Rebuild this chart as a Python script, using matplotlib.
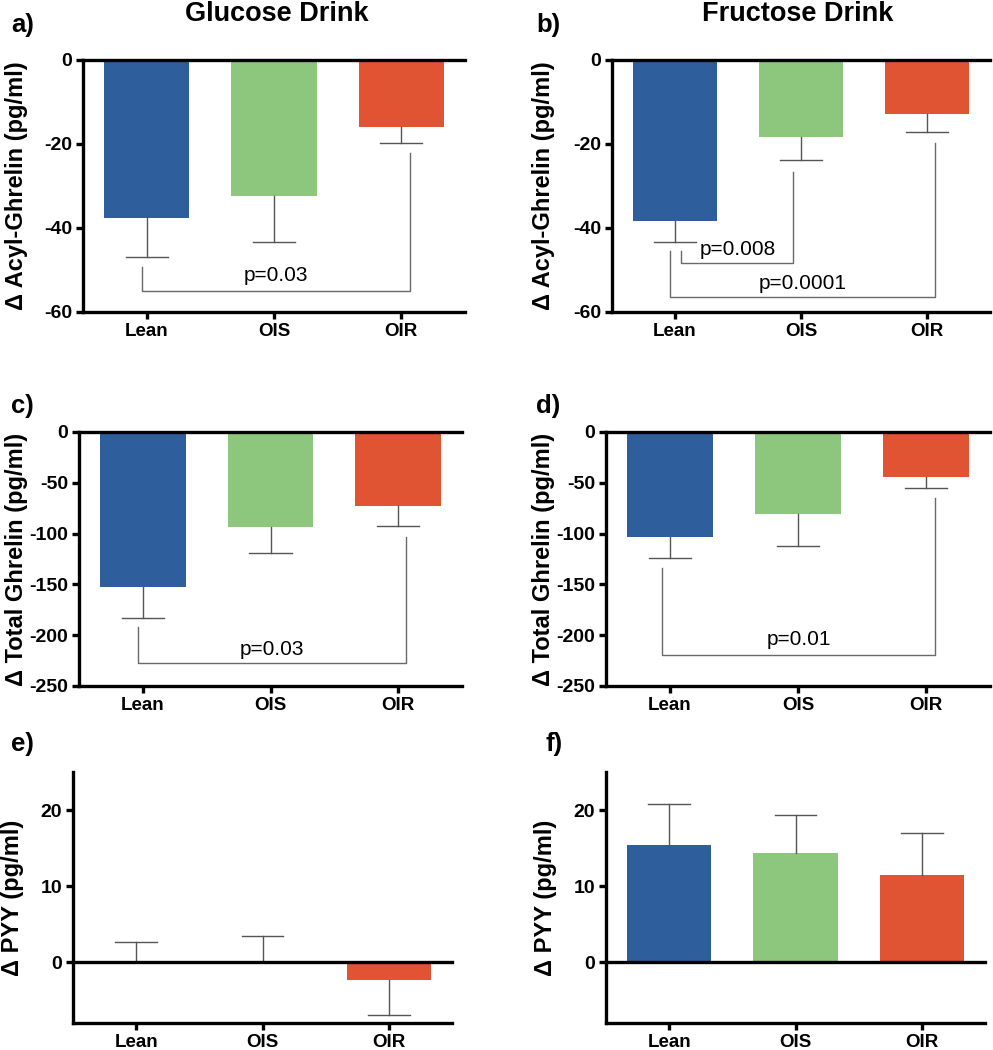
import matplotlib
matplotlib.use("Agg")
import matplotlib.pyplot as plt
import numpy as np

plt.rcParams['font.family'] = ['Liberation Sans', 'DejaVu Sans']
plt.rcParams['axes.unicode_minus'] = False

groups = ["Lean", "OIS", "OIR"]
colors = ["#2E5E9B", "#8DC67D", "#E05433"]

# group means and SEM
acyl_glucose = [-37.7, -32.4, -16.0]
acyl_glucose_err = [9.2, 11.0, 3.8]
acyl_fructose = [-38.3, -18.4, -12.9]
acyl_fructose_err = [5.1, 5.4, 4.2]
total_glucose = [-152.6, -93.5, -72.8]
total_glucose_err = [30.4, 25.5, 19.7]
total_fructose = [-103.0, -80.7, -44.6]
total_fructose_err = [21.0, 31.3, 10.4]
pyy_glucose = [0.0, 0.2, -2.4]
pyy_glucose_err = [2.7, 3.2, 4.5]
pyy_fructose = [15.4, 14.4, 11.5]
pyy_fructose_err = [5.4, 4.9, 5.5]

W, H = 993, 1050
fig = plt.figure(figsize=(W / 100, H / 100), dpi=100)


def px_axes(left, right, top, bottom):
    return fig.add_axes([left / W, 1 - bottom / H, (right - left) / W, (bottom - top) / H])


def bracket(ax, x1, x2, y1, y2, ybar, text, ty):
    ax.plot([x1, x1, x2, x2], [y1, ybar, ybar, y2], color="#6a6a6a", lw=1.0, zorder=2)
    ax.text((x1 + x2) / 2, ty, text, ha="center", va="center", fontsize=15)


def panel(ax, vals, errs, ylim, yticks, ylabel, label_x):
    x = np.arange(len(groups))
    ax.bar(x, vals, width=0.67, color=colors, edgecolor="none", zorder=1)
    for xi, v, e in zip(x, vals, errs):
        d = -1 if v < 0 else 1
        ax.plot([xi, xi], [v, v + d * e], color="#555555", lw=1.0, zorder=2)
        ax.plot([xi - 0.165, xi + 0.165], [v + d * e] * 2, color="#555555", lw=1.0, zorder=2)
    ax.axhline(0, color="black", lw=2.4, zorder=3, clip_on=False)
    ax.set_xlim(-0.5, 2.5)
    ax.set_ylim(*ylim)
    ax.set_yticks(yticks)
    ax.set_xticks(x)
    ax.set_xticklabels(groups)
    for s in ["top", "right"]:
        ax.spines[s].set_visible(False)
    for s in ["left", "bottom"]:
        ax.spines[s].set_linewidth(2.4)
    ax.tick_params(axis="both", length=5, width=2.4, pad=3)
    ax.tick_params(axis="y", labelsize=14)
    ax.tick_params(axis="x", labelsize=13.5)
    for lab in ax.get_xticklabels() + ax.get_yticklabels():
        lab.set_fontweight("bold")
    ax.set_ylabel(ylabel, fontsize=17, fontweight="bold")
    ax.yaxis.set_label_coords(label_x, 0.5)


# row 1: acyl ghrelin
ax_a = px_axes(83, 465, 60, 312)
panel(ax_a, acyl_glucose, acyl_glucose_err, (-60, 0), [0, -20, -40, -60],
      "Δ Acyl-Ghrelin (pg/ml)", -0.144)
bracket(ax_a, -0.04, 2.07, -49.2, -22.1, -55.0, "p=0.03", -51.4)

ax_b = px_axes(612, 990, 60, 312)
panel(ax_b, acyl_fructose, acyl_fructose_err, (-60, 0), [0, -20, -40, -60],
      "Δ Acyl-Ghrelin (pg/ml)", -0.151)
bracket(ax_b, 0.05, 0.94, -45.4, -26.6, -48.4, "p=0.008", -45.2)
bracket(ax_b, -0.04, 2.06, -45.4, -19.7, -56.5, "p=0.0001", -53.3)

# row 2: total ghrelin
ax_c = px_axes(79, 462, 432, 686)
panel(ax_c, total_glucose, total_glucose_err, (-250, 0), [0, -50, -100, -150, -200, -250],
      "Δ Total Ghrelin (pg/ml)", -0.133)
bracket(ax_c, -0.04, 2.06, -192, -103, -227, "p=0.03", -213.6)

ax_d = px_axes(606, 990, 432, 686)
panel(ax_d, total_fructose, total_fructose_err, (-250, 0), [0, -50, -100, -150, -200, -250],
      "Δ Total Ghrelin (pg/ml)", -0.133)
bracket(ax_d, -0.06, 2.07, -134, -65, -219.5, "p=0.01", -204)

# row 3: PYY
ax_e = px_axes(73, 452, 772, 1023)
panel(ax_e, pyy_glucose, pyy_glucose_err, (-8, 25), [0, 10, 20],
      "Δ PYY (pg/ml)", -0.129)

ax_f = px_axes(606, 985, 772, 1023)
panel(ax_f, pyy_fructose, pyy_fructose_err, (-8, 25), [0, 10, 20],
      "Δ PYY (pg/ml)", -0.129)

# titles and panel letters
fig.text(277 / W, 1 - 14 / H, "Glucose Drink", ha="center", va="center", fontsize=19.5, fontweight="bold")
fig.text(798 / W, 1 - 14 / H, "Fructose Drink", ha="center", va="center", fontsize=19.5, fontweight="bold")
for lab, xp, yp in [("a)", 11, 25), ("b)", 536, 25), ("c)", 11, 406),
                    ("d)", 536, 406), ("e)", 11, 744), ("f)", 545, 744)]:
    fig.text(xp / W, 1 - yp / H, lab, ha="left", va="center", fontsize=18.5, fontweight="bold")

fig.savefig("out.png", dpi=100, facecolor="white")
